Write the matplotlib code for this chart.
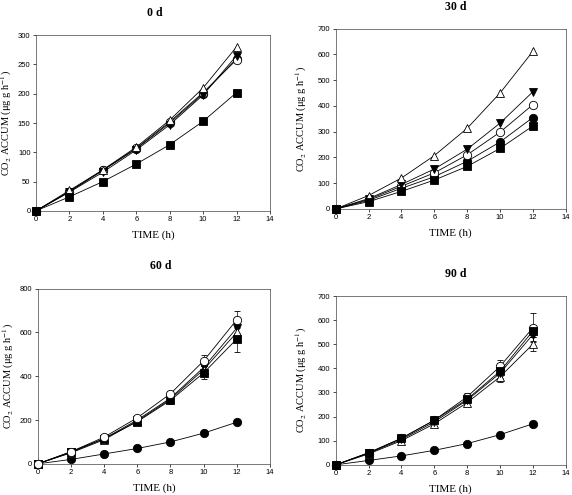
import matplotlib

matplotlib.use("Agg")
import matplotlib.pyplot as plt
import numpy as np

time_h = [0, 2, 4, 6, 8, 10, 12]

# 0 d
d0_filled_circle = [0, 33, 69, 106, 150, 200, 260]
d0_open_circle = [0, 33, 70, 107, 152, 202, 258]
d0_filled_tri = [0, 32, 66, 104, 147, 198, 265]
d0_open_tri = [0, 35, 70, 109, 155, 210, 280]
d0_square = [0, 24, 50, 80, 113, 153, 202]

# 30 d
d30_filled_circle = [0, 33, 80, 125, 185, 260, 355]
d30_open_circle = [0, 37, 88, 140, 210, 298, 405]
d30_filled_tri = [0, 40, 95, 155, 232, 333, 455]
d30_open_tri = [0, 52, 120, 207, 313, 450, 612]
d30_square = [0, 28, 68, 112, 165, 235, 322]

# 60 d
d60_filled_circle = [0, 20, 45, 70, 100, 140, 190]
d60_open_circle = [0, 55, 122, 210, 320, 470, 658]
d60_filled_tri = [0, 52, 115, 200, 300, 440, 620]
d60_open_tri = [0, 50, 110, 195, 295, 430, 600]
d60_square = [0, 55, 115, 192, 290, 415, 570]
d60_err_open_circle = [0, 4, 6, 8, 12, 25, 40]
d60_err_square = [0, 4, 6, 8, 15, 30, 60]
d60_err_other = [0, 3, 5, 6, 10, 18, 25]

# 90 d
d90_filled_circle = [0, 18, 37, 60, 88, 125, 170]
d90_open_circle = [0, 50, 110, 185, 282, 408, 568]
d90_filled_tri = [0, 48, 105, 178, 268, 380, 540]
d90_open_tri = [0, 45, 100, 170, 258, 365, 500]
d90_square = [0, 50, 110, 185, 272, 388, 555]
d90_err_open_circle = [0, 4, 6, 8, 15, 25, 60]
d90_err_open_tri = [0, 3, 5, 8, 12, 20, 30]
d90_err_other = [0, 3, 5, 6, 10, 18, 25]

styles = {
    "filled_circle": dict(marker="o", mfc="black"),
    "open_circle": dict(marker="o", mfc="white"),
    "filled_tri": dict(marker="v", mfc="black"),
    "open_tri": dict(marker="^", mfc="white"),
    "square": dict(marker="s", mfc="black"),
}

# title, axes rect, y-axis range, title position (px), ylabel x (axes frac), series
panels = [
    ("0 d", [0.063, 0.574, 0.409, 0.355], (0, 300, 50), (155, 13), -0.095,
     {"filled_circle": (d0_filled_circle, None), "open_circle": (d0_open_circle, None),
      "filled_tri": (d0_filled_tri, None), "open_tri": (d0_open_tri, None),
      "square": (d0_square, None)}),
    ("30 d", [0.587, 0.578, 0.402, 0.364], (0, 700, 100), (456, 7), -0.117,
     {"filled_circle": (d30_filled_circle, None), "open_circle": (d30_open_circle, None),
      "filled_tri": (d30_filled_tri, None), "open_tri": (d30_open_tri, None),
      "square": (d30_square, None)}),
    ("60 d", [0.066, 0.063, 0.406, 0.354], (0, 800, 200), (161, 266), -0.095,
     {"filled_circle": (d60_filled_circle, None),
      "filled_tri": (d60_filled_tri, d60_err_other),
      "open_tri": (d60_open_tri, d60_err_other),
      "square": (d60_square, d60_err_square),
      "open_circle": (d60_open_circle, d60_err_open_circle)}),
    ("90 d", [0.587, 0.061, 0.402, 0.341], (0, 700, 100), (456, 274), -0.117,
     {"filled_circle": (d90_filled_circle, None),
      "open_tri": (d90_open_tri, d90_err_open_tri),
      "filled_tri": (d90_filled_tri, d90_err_other),
      "open_circle": (d90_open_circle, d90_err_open_circle),
      "square": (d90_square, d90_err_other)}),
]

plt.rcParams["mathtext.fontset"] = "stix"
W, H = 572, 495
fig = plt.figure(figsize=(W / 100, H / 100), dpi=100)
serif = "Liberation Serif"
sans = "Liberation Sans"

for title, rect, (ylo, yhi, ystep), (tx, ty), ylx, series in panels:
    ax = fig.add_axes(rect)
    for name, (vals, err) in series.items():
        st = styles[name]
        ax.errorbar(time_h, vals, yerr=err, color="black", lw=0.6,
                    marker=st["marker"], mfc=st["mfc"], mec="black", mew=0.6,
                    ms=6, ecolor="black", elinewidth=0.5, capsize=2.5,
                    capthick=0.5, clip_on=False, zorder=3)
    ax.set_xlim(0, 14)
    ax.set_ylim(ylo, yhi)
    ax.set_xticks(np.arange(0, 15, 2))
    ax.set_yticks(np.arange(ylo, yhi + 1, ystep))
    ax.tick_params(top=False, right=False, direction="out", length=2.5,
                   width=0.5, labelsize=5.5, pad=1.5)
    for lab in ax.get_xticklabels() + ax.get_yticklabels():
        lab.set_family(sans)
    for sp in ax.spines.values():
        sp.set_linewidth(0.5)
        sp.set_color("#444444")
    ax.set_xlabel("TIME (h)", family=serif, fontsize=8, labelpad=5)
    ax.set_ylabel("CO$_2$ ACCUM (μg g h$^{-1}$)", family=serif, fontsize=7.5)
    ax.yaxis.set_label_coords(ylx, 0.5)
    fig.text(tx / W, 1 - ty / H, title, family=serif, fontsize=8.5,
             fontweight="bold", ha="center", va="center")

fig.savefig("out.png", dpi=100)
